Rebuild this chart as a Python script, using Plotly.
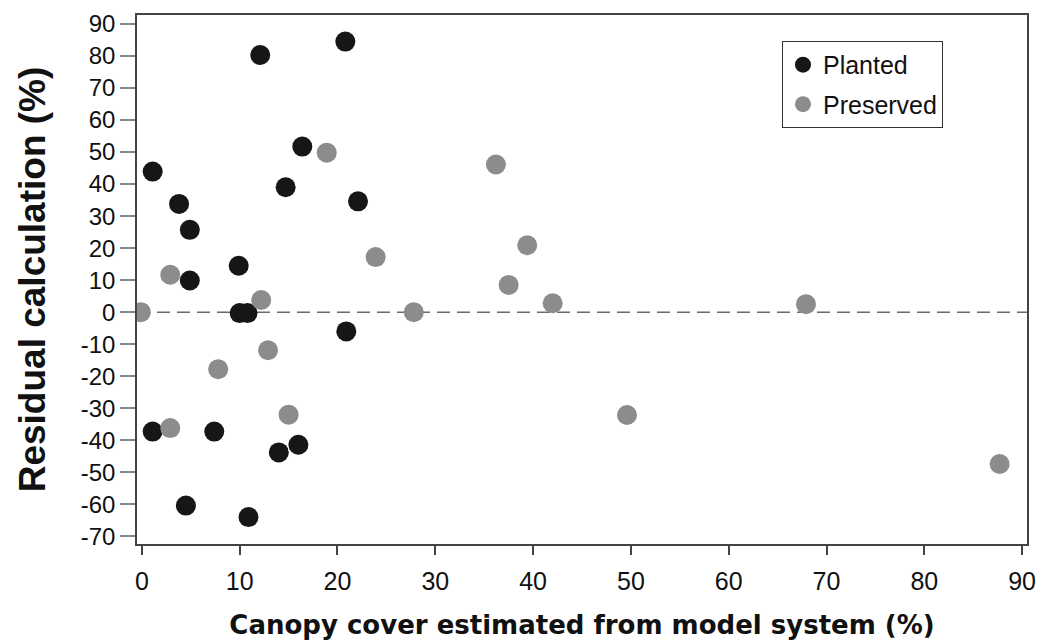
import plotly.graph_objects as go

# Planted series
planted_x = [1.1, 12.1, 20.8, 16.4, 14.7, 22.1, 3.8, 4.9, 9.9, 4.9, 10.0, 10.8, 20.9, 1.1, 7.4, 14.0, 16.0, 4.5, 10.9]
planted_y = [43.9, 80.3, 84.5, 51.7, 39.0, 34.6, 33.8, 25.7, 14.5, 9.9, -0.3, -0.3, -6.0, -37.3, -37.3, -43.8, -41.4, -60.4, -64.0]

# Preserved series
preserved_x = [18.9, 23.9, 2.9, 12.2, -0.1, 12.9, 7.8, 15.0, 2.9, 36.2, 39.4, 37.5, 42.0, 27.8, 49.6, 67.9, 87.7]
preserved_y = [49.8, 17.2, 11.7, 3.8, 0.0, -11.9, -17.8, -32.0, -36.2, 46.1, 20.9, 8.5, 2.8, 0.0, -32.1, 2.5, -47.4]

x_ticks = [0, 10, 20, 30, 40, 50, 60, 70, 80, 90]
y_ticks = [90, 80, 70, 60, 50, 40, 30, 20, 10, 0, -10, -20, -30, -40, -50, -60, -70]

FONT = "Liberation Sans, Arial, sans-serif"
WIDE = "DejaVu Sans, Liberation Sans, sans-serif"

fig = go.Figure()
fig.add_trace(go.Scatter(
    x=planted_x, y=planted_y, mode="markers", name="Planted",
    marker=dict(size=20, color="#161616", line=dict(width=0)),
    legendgroup="a",
))
fig.add_trace(go.Scatter(
    x=preserved_x, y=preserved_y, mode="markers", name="Preserved",
    marker=dict(size=20, color="#8c8c8c", line=dict(width=0)),
    legendgroup="b",
))

fig.add_hline(y=0, line=dict(color="#6a6a6a", width=1.5, dash="13px,7px"), layer="below")

fig.update_layout(
    width=1038, height=642,
    margin=dict(l=137, r=11, t=15, b=98, autoexpand=False),
    paper_bgcolor="white", plot_bgcolor="white",
    font=dict(family=FONT, color="#111111"),
    showlegend=True,
    legend=dict(
        x=0.7247, y=0.951, xanchor="left", yanchor="top",
        bgcolor="white", bordercolor="#333333", borderwidth=1,
        font=dict(size=25, family=FONT, color="#111111"),
        tracegroupgap=4,
    ),
    xaxis=dict(
        range=[-0.5, 90.5], tickvals=x_ticks, ticktext=[str(v) for v in x_ticks],
        showgrid=False, zeroline=False, automargin=False,
        showline=True, linecolor="#444444", linewidth=1.5, mirror=True,
        ticks="outside", ticklen=9, tickcolor="#444444", tickwidth=1.5,
        ticklabelstandoff=5,
        tickfont=dict(size=25, family=FONT, color="#111111"),
        title=dict(text="<b>Canopy cover estimated from model system (%)</b>",
                   font=dict(size=26, family=WIDE, color="#111111"), standoff=22),
    ),
    yaxis=dict(
        range=[-72.4, 92.8], tickvals=y_ticks, ticktext=[str(v) for v in y_ticks],
        showgrid=False, zeroline=False, automargin=False,
        showline=True, linecolor="#444444", linewidth=1.5, mirror=True,
        ticks="outside", ticklen=15, tickcolor="#888888", tickwidth=1.5,
        tickfont=dict(size=24, family=FONT, color="#111111"),
        title=dict(text="<b>Residual calculation (%)</b>",
                   font=dict(size=37, family=FONT, color="#111111"), standoff=24),
    ),
)

fig.write_html("out.html")
